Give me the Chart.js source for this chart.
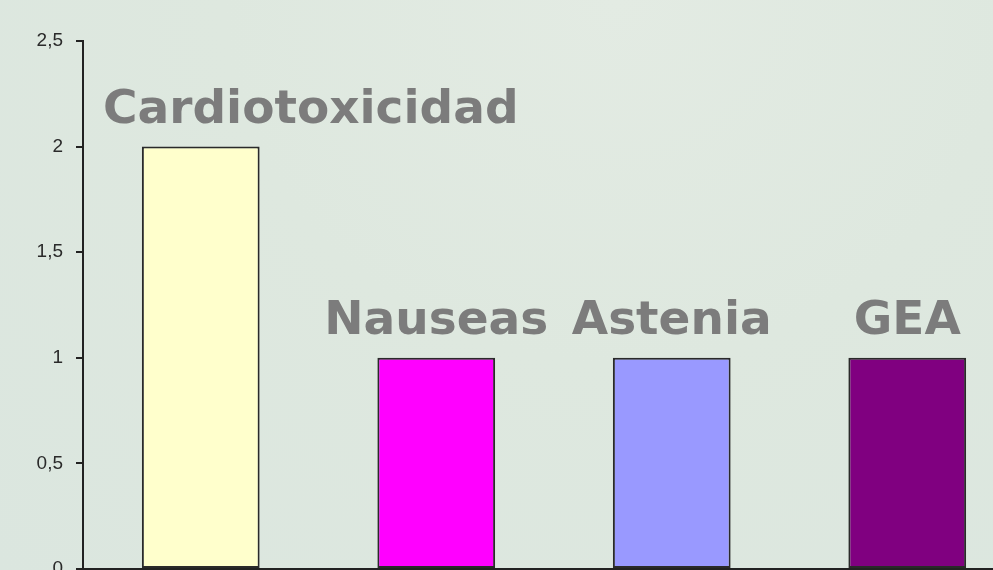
<!DOCTYPE html>
<html>
<head>
<meta charset="utf-8">
<script src="https://cdn.jsdelivr.net/npm/chart.js@4"></script>
<style>
html,body{margin:0;padding:0;width:993px;height:570px;overflow:hidden;}
body{background:radial-gradient(ellipse at 62% 0%, #e3ebe3 0%, #dee8df 45%, #dbe6df 100%), #dde8de;}
#wrap{position:absolute;left:0;top:0;width:1100px;height:640px;}
</style>
</head>
<body>
<div id="wrap"><canvas id="c" width="1100" height="640"></canvas></div>
<script>
const categories = ["Cardiotoxicidad", "Nauseas", "Astenia", "GEA"];
const values = [2, 1, 1, 1];
const barColors = ["#FFFFCC", "#FF00FF", "#9999FF", "#800080"];
const yTicks = [0, 0.5, 1, 1.5, 2, 2.5];

const labelPlugin = {
  id: 'barLabels',
  afterDatasetsDraw(chart) {
    const ctx = chart.ctx;
    const meta = chart.getDatasetMeta(0);
    ctx.save();
    ctx.font = 'bold 47px "DejaVu Sans", sans-serif';
    ctx.fillStyle = '#7c7c7c';
    ctx.textBaseline = 'alphabetic';
    ctx.textAlign = 'left';
    meta.data.forEach((bar, i) => {
      const txt = categories[i];
      const w = ctx.measureText(txt).width;
      let x = bar.x - w / 2;
      const minX = chart.chartArea.left + 20;
      if (x < minX) x = minX;
      ctx.fillText(txt, x, bar.y - 24);
    });
    ctx.restore();
  }
};

new Chart(document.getElementById('c'), {
  type: 'bar',
  data: {
    labels: categories,
    datasets: [{
      data: values,
      backgroundColor: barColors,
      borderColor: '#2a2a2a',
      borderWidth: 2,
      borderSkipped: false,
      categoryPercentage: 1,
      barPercentage: 0.5
    }]
  },
  options: {
    responsive: false,
    animation: false,
    layout: { padding: { top: 41, right: 75, bottom: 71, left: 0 } },
    plugins: { legend: { display: false }, tooltip: { enabled: false } },
    scales: {
      x: {
        ticks: { display: false },
        grid: { display: false, drawTicks: false },
        border: { display: true, color: '#222', width: 2 },
        afterFit(s) { s.height = 0; }
      },
      y: {
        min: 0, max: 2.5,
        afterBuildTicks(s) { s.ticks = yTicks.map(v => ({ value: v })); },
        ticks: {
          color: '#2a2a2a',
          font: { family: '"Liberation Sans", Arial, sans-serif', size: 19 },
          padding: 13,
          callback: v => String(v).replace('.', ',')
        },
        grid: { drawOnChartArea: false, drawTicks: true, tickLength: 7, color: '#222', lineWidth: 2 },
        border: { display: true, color: '#222', width: 2 },
        afterFit(s) { s.width = 83; }
      }
    }
  },
  plugins: [labelPlugin]
});
</script>
</body>
</html>
